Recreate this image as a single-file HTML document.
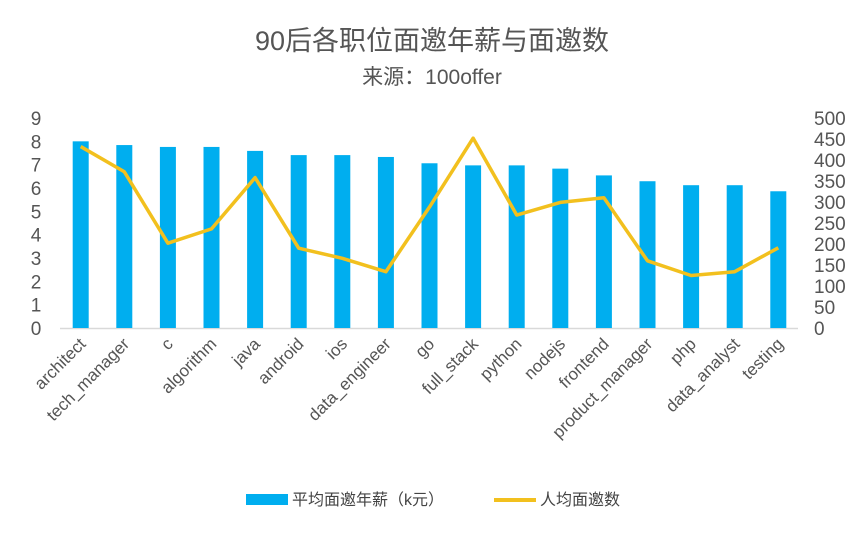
<!DOCTYPE html>
<html><head><meta charset="utf-8"><style>
body{margin:0;background:#fff;}
svg{display:block;font-family:"Liberation Sans","Noto Sans CJK SC",sans-serif;}
</style></head><body>
<svg id="c" width="865" height="534">
<text x="432" y="50" text-anchor="middle" font-size="27" fill="#555">90后各职位面邀年薪与面邀数</text>
<text x="432" y="84" text-anchor="middle" font-size="21" fill="#555">来源：100offer</text>
<g id="g"></g>
<g>
<rect x="246" y="494" width="42" height="11" fill="#00AEEF"/>
<text x="292" y="505" font-size="16" fill="#444">平均面邀年薪（k元）</text>
<line x1="494" y1="500" x2="536" y2="500" stroke="#F2C01E" stroke-width="4"/>
<text x="540" y="505" font-size="16" fill="#444">人均面邀数</text>
</g>
</svg>
<script>
const categories=["architect","tech_manager","c","algorithm","java","android","ios","data_engineer","go","full_stack","python","nodejs","frontend","product_manager","php","data_analyst","testing"];
const salary=[8.0,7.84,7.76,7.76,7.59,7.41,7.41,7.33,7.06,6.97,6.97,6.83,6.54,6.29,6.12,6.12,5.86];
const offers=[432,372,202,236,358,190,166,134,288,452,269,299,310,160,125,134,191];
const leftTicks=[0,1,2,3,4,5,6,7,8,9];
const rightTicks=[0,50,100,150,200,250,300,350,400,450,500];
const NS="http://www.w3.org/2000/svg";
const g=document.getElementById('g');
const x0=80.7,step=43.6,yBase=328,yTop=118;
const xs=i=>x0+i*step;
const yL=v=>yBase-(yBase-yTop)*v/9;
const yR=v=>yBase-(yBase-yTop)*v/500;
function mk(t,a){const e=document.createElementNS(NS,t);for(const k in a)e.setAttribute(k,a[k]);g.appendChild(e);return e;}
const ax=mk('line',{x1:60,y1:yBase+0.5,x2:798,y2:yBase+0.5,stroke:'#d9d9d9','stroke-width':1.5});


leftTicks.forEach(v=>{const t=mk('text',{x:36,y:yL(v)+7,'text-anchor':'middle','font-size':19,fill:'#555'});t.textContent=v;

});
rightTicks.forEach(v=>{const t=mk('text',{x:814,y:yR(v)+7,'font-size':19,fill:'#555'});t.textContent=v;

});
salary.forEach((v,i)=>{const r=mk('rect',{x:xs(i)-8,y:yL(v),width:16,height:yBase-yL(v),fill:'#00AEEF'});

});
const pl=mk('polyline',{points:offers.map((v,i)=>xs(i)+','+yR(v)).join(' '),fill:'none',stroke:'#F2C01E','stroke-width':3.5,'stroke-linejoin':'round'});


categories.forEach((c,i)=>{const x=xs(i)+6,y=345;const t=mk('text',{x:x,y:y,'text-anchor':'end','font-size':17,fill:'#555',transform:`rotate(-45 ${x} ${y})`});t.textContent=c;

});
</script>
</body></html>
